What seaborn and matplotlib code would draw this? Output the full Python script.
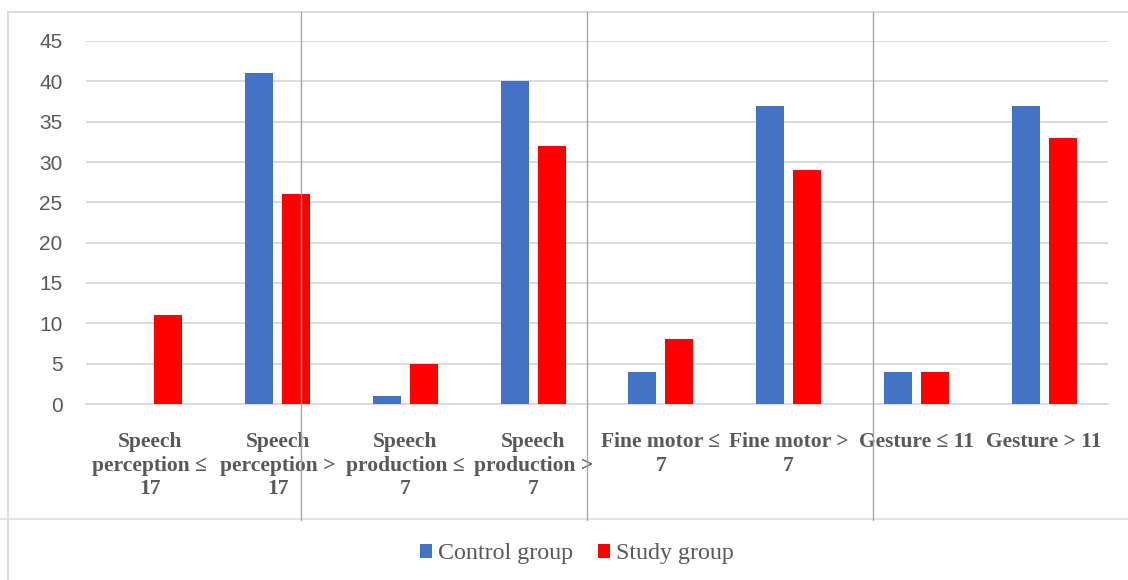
import matplotlib
matplotlib.use("Agg")
import matplotlib.pyplot as plt
from matplotlib.lines import Line2D
import seaborn as sns
import pandas as pd

categories = [
    "Speech\nperception \u2264\n17",
    "Speech\nperception >\n17",
    "Speech\nproduction \u2264\n7",
    "Speech\nproduction >\n7",
    "Fine motor \u2264\n7",
    "Fine motor >\n7",
    "Gesture \u2264 11",
    "Gesture > 11",
]
control_group = [0, 41, 1, 40, 4, 37, 4, 37]
study_group = [11, 26, 5, 32, 8, 29, 4, 33]
series_names = ["Control group", "Study group"]
y_ticks = [0, 5, 10, 15, 20, 25, 30, 35, 40, 45]

df = pd.DataFrame({
    "category": categories * 2,
    "value": control_group + study_group,
    "group": [series_names[0]] * len(categories) + [series_names[1]] * len(categories),
})

sns.set_theme(style="white")
plt.rcParams["font.family"] = ["Liberation Sans", "DejaVu Sans"]

fig = plt.figure(figsize=(11.28, 5.8), dpi=100)
ax = fig.add_axes([86 / 1128, 1 - 404 / 580, (1108 - 86) / 1128, (404 - 41) / 580])

palette = {"Control group": "#4472C4", "Study group": "#FF0000"}
sns.barplot(data=df, x="category", y="value", hue="group", order=categories,
            hue_order=series_names, palette=palette, saturation=1,
            width=0.58, gap=0.24, linewidth=0, ax=ax, zorder=3)

ax.set_ylim(0, 45)
ax.set_xlim(-0.5, len(categories) - 0.5)
ax.set_yticks(y_ticks)
ax.yaxis.grid(True, color="#D9D9D9", linewidth=1.3, zorder=0)
ax.xaxis.grid(False)
ax.set_axisbelow(True)
for side in ["top", "right", "left"]:
    ax.spines[side].set_visible(False)
ax.spines["bottom"].set_color("#D9D9D9")
ax.spines["bottom"].set_linewidth(1.3)
ax.set_xlabel("")
ax.set_ylabel("")
ax.tick_params(axis="y", length=0, pad=17, labelsize=15, labelcolor="#595959")
ax.tick_params(axis="x", length=0, pad=20.5)
for lab in ax.get_xticklabels():
    lab.set_fontfamily(["Liberation Serif", "DejaVu Serif"])
    lab.set_fontweight("bold")
    lab.set_fontsize(15.5)
    lab.set_color("#595959")
    lab.set_linespacing(1.23)

# legend below the chart
handles, labels = ax.get_legend_handles_labels()
ax.legend_.remove()
fig.legend(handles, labels, loc="center", bbox_to_anchor=(577 / 1128, 1 - 554 / 580),
           ncol=2, frameon=False, handlelength=0.5, handleheight=0.5,
           handletextpad=0.25, columnspacing=1.05,
           prop={"family": ["Liberation Serif", "DejaVu Serif"], "size": 17.3},
           labelcolor="#595959")

# surrounding frame and column separators
W, H = 1128, 580
def fig_line(x0, y0, x1, y1, color, lw):
    fig.add_artist(Line2D([x0 / W, x1 / W], [1 - y0 / H, 1 - y1 / H],
                          transform=fig.transFigure, color=color, linewidth=lw))

fig_line(8, 12, W, 12, "#D9D9D9", 1.3)
fig_line(8, 12, 8, H, "#D9D9D9", 1.3)
fig_line(0, 519, W, 519, "#E3E3E3", 1.3)
for xs in [301, 587, 873]:
    fig_line(xs, 12, xs, 520, "#A6A6A6", 1.0)

fig.savefig("out.png", dpi=100)
